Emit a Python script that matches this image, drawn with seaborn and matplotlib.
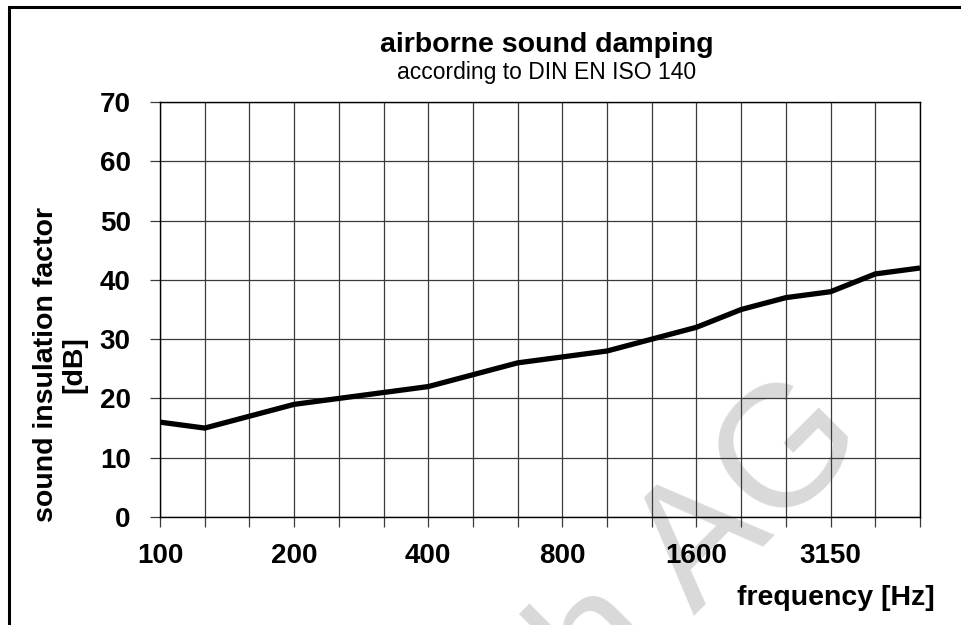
import matplotlib
matplotlib.use("Agg")
import matplotlib.pyplot as plt
import seaborn as sns
import pandas as pd
from matplotlib.patches import Rectangle

# third-octave bands and measured values
bands = [100, 125, 160, 200, 250, 315, 400, 500, 630, 800,
         1000, 1250, 1600, 2000, 2500, 3150, 4000, 5000]
damping_db = [16, 15, 17, 19, 20, 21, 22, 24, 26, 27,
              28, 30, 32, 35, 37, 38, 41, 42]
labelled = ['100', '200', '400', '800', '1600', '3150']
y_ticks = [0, 10, 20, 30, 40, 50, 60, 70]

df = pd.DataFrame({'pos': range(len(bands)), 'db': damping_db})
tick_text = [str(b) if str(b) in labelled else '' for b in bands]

sns.set_theme(style="white")
plt.rcParams['font.family'] = ['Liberation Sans', 'DejaVu Sans']
plt.rcParams['text.color'] = 'black'
plt.rcParams['xtick.color'] = 'black'
plt.rcParams['ytick.color'] = 'black'

fig = plt.figure(figsize=(9.61, 6.25), dpi=100)
ax = fig.add_axes([160 / 961, 1 - 517 / 625, 760 / 961, 415 / 625])
ax.set_facecolor('none')

# watermark behind everything
fig.text(735 / 961, 1 - 575 / 625, 'h AG', fontsize=124, color='#d9d9d9',
         rotation=45, rotation_mode='anchor',
         ha='center', va='baseline', zorder=-5)

sns.lineplot(data=df, x='pos', y='db', color='black', linewidth=3.8, ax=ax,
             solid_joinstyle='round', solid_capstyle='butt', zorder=5)

ax.set_xlim(0, len(bands) - 1)
ax.set_ylim(0, 70)
ax.set_xticks(df['pos'])
ax.set_xticklabels(tick_text)
ax.set_yticks(y_ticks)
ax.grid(True, color='#3a3a3a', linewidth=0.9)
for s in ax.spines.values():
    s.set_color('black')
    s.set_linewidth(1.0)
ax.tick_params(axis='both', which='major', length=7, width=0.9, color='#3a3a3a',
               labelsize=20, labelcolor='black')
ax.tick_params(axis='x', pad=12, bottom=True)
ax.tick_params(axis='y', pad=14, left=True)
for lab in ax.get_xticklabels() + ax.get_yticklabels():
    lab.set_fontweight('bold')
ax.set_xlabel('')
ax.set_ylabel('')

fig.text(547 / 961, 1 - 45 / 625, 'airborne sound damping', fontsize=20.5,
         fontweight='bold', ha='center', va='center')
fig.text(547 / 961, 1 - 73 / 625, 'according to DIN EN ISO 140', fontsize=16.5,
         ha='center', va='center')
fig.text(60 / 961, 1 - 365 / 625, 'sound insulation factor\n[dB]', fontsize=20.5,
         fontweight='bold', rotation=90, ha='center', va='center',
         multialignment='center', linespacing=1.1)
fig.text(935 / 961, 1 - 598 / 625, 'frequency [Hz]', fontsize=20.5,
         fontweight='bold', ha='right', va='center')

# outer frame (only top and left edges fall inside the picture)
fig.patches.append(Rectangle((9 / 961, -0.2), 1.2, 1.2 - 7 / 625,
                             transform=fig.transFigure, fill=False,
                             edgecolor='black', linewidth=2.2, zorder=10))

fig.savefig('out.png', dpi=100)
